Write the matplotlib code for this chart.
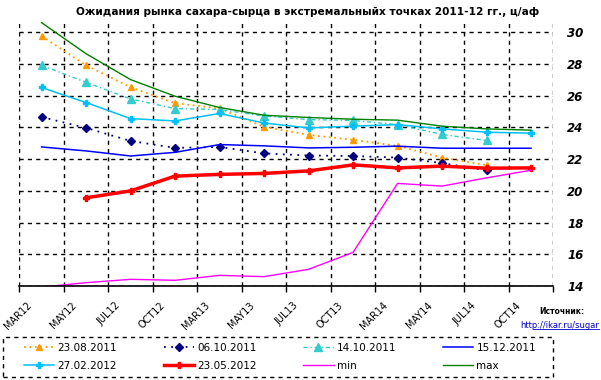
import numpy as np
import matplotlib
matplotlib.use('Agg')
import matplotlib.pyplot as plt
import matplotlib.transforms as mtransforms
from matplotlib.patches import Rectangle

nan = np.nan

# categories (months of futures contracts)
cats = ['MAR12', 'MAY12', 'JUL12', 'OCT12', 'MAR13', 'MAY13',
        'JUL13', 'OCT13', 'MAR14', 'MAY14', 'JUL14', 'OCT14']

# forward curves, c/lb
s_2308 = [29.77, 27.92, 26.54, 25.53, 25.2, 24.04, 23.53, 23.22, 22.84, 22.1, 21.62, nan]
s_0610 = [24.66, 23.97, 23.15, 22.71, 22.77, 22.36, 22.23, 22.2, 22.1, 21.75, 21.3, nan]
s_1410 = [27.92, 26.85, 25.8, 25.19, 25.13, 24.72, 24.5, 24.44, 24.18, 23.56, 23.18, nan]
s_1512 = [22.77, 22.52, 22.2, 22.43, 22.92, 22.84, 22.71, 22.75, 22.82, 22.69, 22.69, 22.69]
s_2702 = [26.52, 25.57, 24.56, 24.41, 24.88, 24.28, 23.97, 24.08, 24.18, 23.91, 23.7, 23.64]
s_2305 = [nan, 19.56, 20.0, 20.93, 21.04, 21.1, 21.26, 21.64, 21.45, 21.56, 21.43, 21.45]
s_min = [13.93, 14.21, 14.42, 14.36, 14.67, 14.59, 15.05, 16.12, 20.47, 20.3, 20.82, 21.3]
s_max = [30.61, 28.65, 27.02, 25.97, 25.26, 24.77, 24.63, 24.52, 24.46, 24.08, 23.91, 23.83]

yticks = [14, 16, 18, 20, 22, 24, 26, 28, 30]

x = np.arange(len(cats))

fig = plt.figure(figsize=(6.01, 3.80), dpi=100)
ax = fig.add_axes([19.3/601, 94/380, 534/601, 264.3/380])

h1, = ax.plot(x, s_2308, color='#FF9900', ls=(0, (1, 2)), lw=1.3,
              marker='^', ms=4, label='23.08.2011')
h2, = ax.plot(x, s_0610, color='#000080', ls=(0, (1, 3)), lw=1.3,
              marker='D', ms=4, label='06.10.2011')
h3, = ax.plot(x, s_1410, color='#33CCCC', ls=(0, (3, 2, 1, 2)), lw=1,
              marker='^', ms=6, label='14.10.2011')
h4, = ax.plot(x, s_1512, color='#0000FF', lw=1.1, label='15.12.2011')
h5, = ax.plot(x, s_2702, color='#00C0F8', lw=1.1,
              marker='P', ms=5, label='27.02.2012')
h6, = ax.plot(x, s_2305, color='#FF0000', lw=2.5,
              marker='P', ms=5, label='23.05.2012')
h7, = ax.plot(x, s_min, color='#FF00FF', lw=1, label='min')
h8, = ax.plot(x, s_max, color='#008000', lw=1, label='max')

ax.set_xlim(-0.5, len(cats) - 0.5)
ax.set_ylim(14, 30.67)

ax.set_xticks(x)
ax.set_xticklabels(cats, rotation=45, ha='right', fontsize=7)
ax.set_xticks(np.arange(len(cats) + 1) - 0.5, minor=True)
ax.tick_params(axis='x', which='major', length=0, pad=10)
ax.tick_params(axis='x', which='minor', length=4, width=1)
shift = mtransforms.ScaledTranslation(-8/100, 0, fig.dpi_scale_trans)
for lab in ax.get_xticklabels():
    lab.set_transform(lab.get_transform() + shift)

ax.yaxis.tick_right()
ax.set_yticks(yticks)
ax.set_yticklabels([str(v) for v in yticks], fontsize=8.5,
                   fontweight='bold', fontstyle='italic')
ax.tick_params(axis='y', length=0, pad=10)

ax.grid(axis='y', which='major', color='black', ls=(0, (3, 3)), lw=1)
ax.grid(axis='x', which='minor', color='black', ls=(0, (3, 3)), lw=1)
for s in ['top', 'left', 'right']:
    ax.spines[s].set_visible(False)
ax.spines['bottom'].set_linewidth(1.2)
ax.set_axisbelow(True)

fig.text(308/601, 1 - 12/380, 'Ожидания рынка сахара-сырца в экстремальныйх точках 2011-12 гг., ц/аф',
         ha='center', va='center', fontsize=7.6, fontweight='bold')

fig.text(562/601, 1 - 311/380, 'Источник:', ha='center', va='center',
         fontsize=5.5, fontweight='bold')
fig.text(599/601, 1 - 325/380, 'http://ikar.ru/sugar', ha='right', va='center',
         fontsize=6, color='#0000CC', url='http://ikar.ru/sugar')
fig.add_artist(plt.Line2D([533/601, 599/601], [1 - 329/380, 1 - 329/380],
                          color='#0000CC', lw=0.6))

# legend: dashed frame drawn separately, entries spread inside it
fig.add_artist(Rectangle((3/601, 1 - 377/380), 550/601, 40/380,
                         transform=fig.transFigure, fill=False,
                         edgecolor='black', ls=(0, (3, 3)), lw=1))
handles = [h1, h5, h2, h6, h3, h7, h4, h8]
leg = fig.legend(handles=handles, labels=[h.get_label() for h in handles],
                 ncol=4, loc='center', mode='expand',
                 bbox_to_anchor=(24/601, 1 - 377/380, 512/601, 40/380),
                 fontsize=7.5, handlelength=2.9, handletextpad=0.3,
                 frameon=False, borderpad=0, borderaxespad=0,
                 labelspacing=0.75, columnspacing=1.0)

plt.savefig('out.png', dpi=100)
